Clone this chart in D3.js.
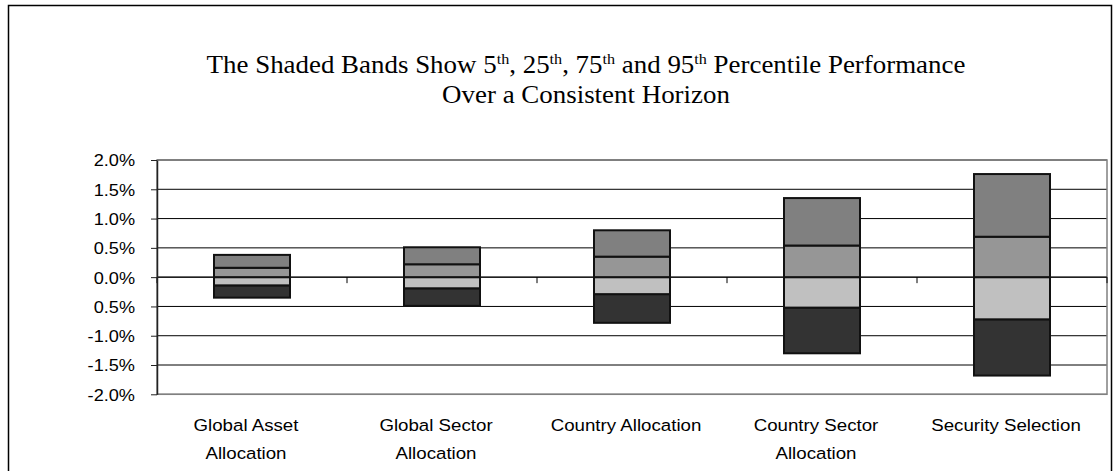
<!DOCTYPE html>
<html>
<head>
<meta charset="utf-8">
<script src="https://cdn.jsdelivr.net/npm/d3@7"></script>
<style>
  html, body { margin: 0; padding: 0; background: #fff; }
  svg { display: block; }
</style>
</head>
<body>
<svg id="chart" width="1118" height="471"></svg>
<script>
// Percentile bands per allocation strategy (values in %)
const categories = [
  ["Global Asset", "Allocation"],
  ["Global Sector", "Allocation"],
  ["Country Allocation"],
  ["Country Sector", "Allocation"],
  ["Security Selection"]
];
const p5  = [-0.35, -0.49, -0.78, -1.30, -1.68];
const p25 = [-0.14, -0.19, -0.29, -0.52, -0.72];
const p50 = [0, 0, 0, 0, 0];
const p75 = [0.16, 0.22, 0.35, 0.54, 0.69];
const p95 = [0.38, 0.51, 0.80, 1.35, 1.76];

const yTickValues = [2.0, 1.5, 1.0, 0.5, 0.0, -0.5, -1.0, -1.5, -2.0];
const yTickLabels = ["2.0%", "1.5%", "1.0%", "0.5%", "0.0%", "0.5%", "-1.0%", "-1.5%", "-2.0%"];

const bandColors = ["#333333", "#c0c0c0", "#969696", "#808080"];

const svg = d3.select("#chart");
const axisStretch = 1.1;
const titleStretch = 1.077;

// outer chart frame
svg.append("rect")
  .attr("x", 8.5).attr("y", 5.5)
  .attr("width", 1103).attr("height", 490)
  .attr("fill", "#fff").attr("stroke", "#000").attr("stroke-width", 1.5);

const plot = { left: 157, right: 1107, top: 160, bottom: 394.3 };

const keys = categories.map(c => c.join(" "));
const x = d3.scaleBand()
  .domain(keys)
  .range([plot.left, plot.right])
  .paddingInner(0.6)
  .paddingOuter(0.3);

const y = d3.scaleLinear()
  .domain([-2, 2])
  .range([plot.bottom, plot.top]);

// horizontal gridlines
svg.append("g")
  .selectAll("line")
  .data(yTickValues)
  .join("line")
  .attr("x1", plot.left).attr("x2", plot.right)
  .attr("y1", d => y(d)).attr("y2", d => y(d))
  .attr("stroke", "#000").attr("stroke-width", 1);

// plot area border
svg.append("rect")
  .attr("x", plot.left).attr("y", y(2))
  .attr("width", plot.right - plot.left)
  .attr("height", y(-2) - y(2))
  .attr("fill", "none").attr("stroke", "#808080").attr("stroke-width", 1.5);

// category axis crossing at zero, with ticks between categories
const half = (x.step() - x.bandwidth()) / 2;
const bounds = keys.map(k => x(k) - half).concat([x(keys[keys.length - 1]) + x.bandwidth() + half]);
const zeroAxis = svg.append("g");
zeroAxis.append("line")
  .attr("x1", plot.left).attr("x2", plot.right)
  .attr("y1", y(0)).attr("y2", y(0))
  .attr("stroke", "#000");
zeroAxis.selectAll("line.tick")
  .data(bounds)
  .join("line")
  .attr("class", "tick")
  .attr("x1", d => d).attr("x2", d => d)
  .attr("y1", y(0)).attr("y2", y(0) + 6)
  .attr("stroke", "#000");

// stacked percentile bands
const rows = keys.map((k, i) => ({
  key: k,
  edges: [p5[i], p25[i], p50[i], p75[i], p95[i]]
}));
const bars = svg.append("g").selectAll("g")
  .data(rows)
  .join("g");
bars.selectAll("rect")
  .data(d => d3.range(4).map(j => ({ key: d.key, lo: d.edges[j], hi: d.edges[j + 1], j })))
  .join("rect")
  .attr("x", d => x(d.key))
  .attr("width", x.bandwidth())
  .attr("y", d => y(d.hi))
  .attr("height", d => y(d.lo) - y(d.hi))
  .attr("fill", d => bandColors[d.j])
  .attr("stroke", "#111")
  .attr("stroke-width", 2);

// value axis
const yAxis = svg.append("g")
  .attr("transform", `translate(${plot.left},0)`)
  .call(d3.axisLeft(y)
    .tickValues(yTickValues)
    .tickSize(6)
    .tickSizeOuter(0)
    .tickFormat((d, i) => yTickLabels[i]));
yAxis.select(".domain").attr("stroke", "#222").attr("stroke-width", 1.5);
yAxis.selectAll(".tick line").attr("stroke", "#222");
yAxis.selectAll(".tick text")
  .attr("font-family", "Arial, 'Liberation Sans', sans-serif")
  .attr("font-size", 16.5)
  .attr("fill", "#000")
  .attr("x", -22 / axisStretch)
  .attr("dy", "0.36em")
  .attr("transform", `scale(${axisStretch},1)`);

// category labels
const labelFont = "Arial, 'Liberation Sans', sans-serif";
const lab = svg.append("g").selectAll("g")
  .data(categories)
  .join("g")
  .attr("transform", (d, i) => `translate(${x(keys[i]) + x.bandwidth() / 2 - 6},431) scale(${axisStretch},1)`);
lab.selectAll("text")
  .data(d => d)
  .join("text")
  .attr("y", (d, i) => i * 28)
  .attr("text-anchor", "middle")
  .attr("font-family", labelFont)
  .attr("font-size", 17)
  .attr("fill", "#000")
  .text(d => d);

// title
const titleFont = "'Times New Roman', 'Liberation Serif', serif";
const title = svg.append("g")
  .attr("transform", `translate(586,73) scale(${titleStretch},1)`);
const t1 = title.append("text")
  .attr("text-anchor", "middle")
  .attr("font-family", titleFont)
  .attr("font-size", 25)
  .attr("fill", "#000");
const parts = [
  ["The Shaded Bands Show 5", false], ["th", true],
  [", 25", false], ["th", true],
  [", 75", false], ["th", true],
  [" and 95", false], ["th", true],
  [" Percentile Performance", false]
];
parts.forEach(([s, sup], i) => {
  const prevSup = i > 0 && parts[i - 1][1];
  t1.append("tspan")
    .attr("dy", sup ? -9 : (prevSup ? 9 : 0))
    .attr("font-size", sup ? 15 : 25)
    .text(s);
});
title.append("text")
  .attr("y", 30)
  .attr("text-anchor", "middle")
  .attr("font-family", titleFont)
  .attr("font-size", 25)
  .attr("fill", "#000")
  .text("Over a Consistent Horizon");
</script>
</body>
</html>
